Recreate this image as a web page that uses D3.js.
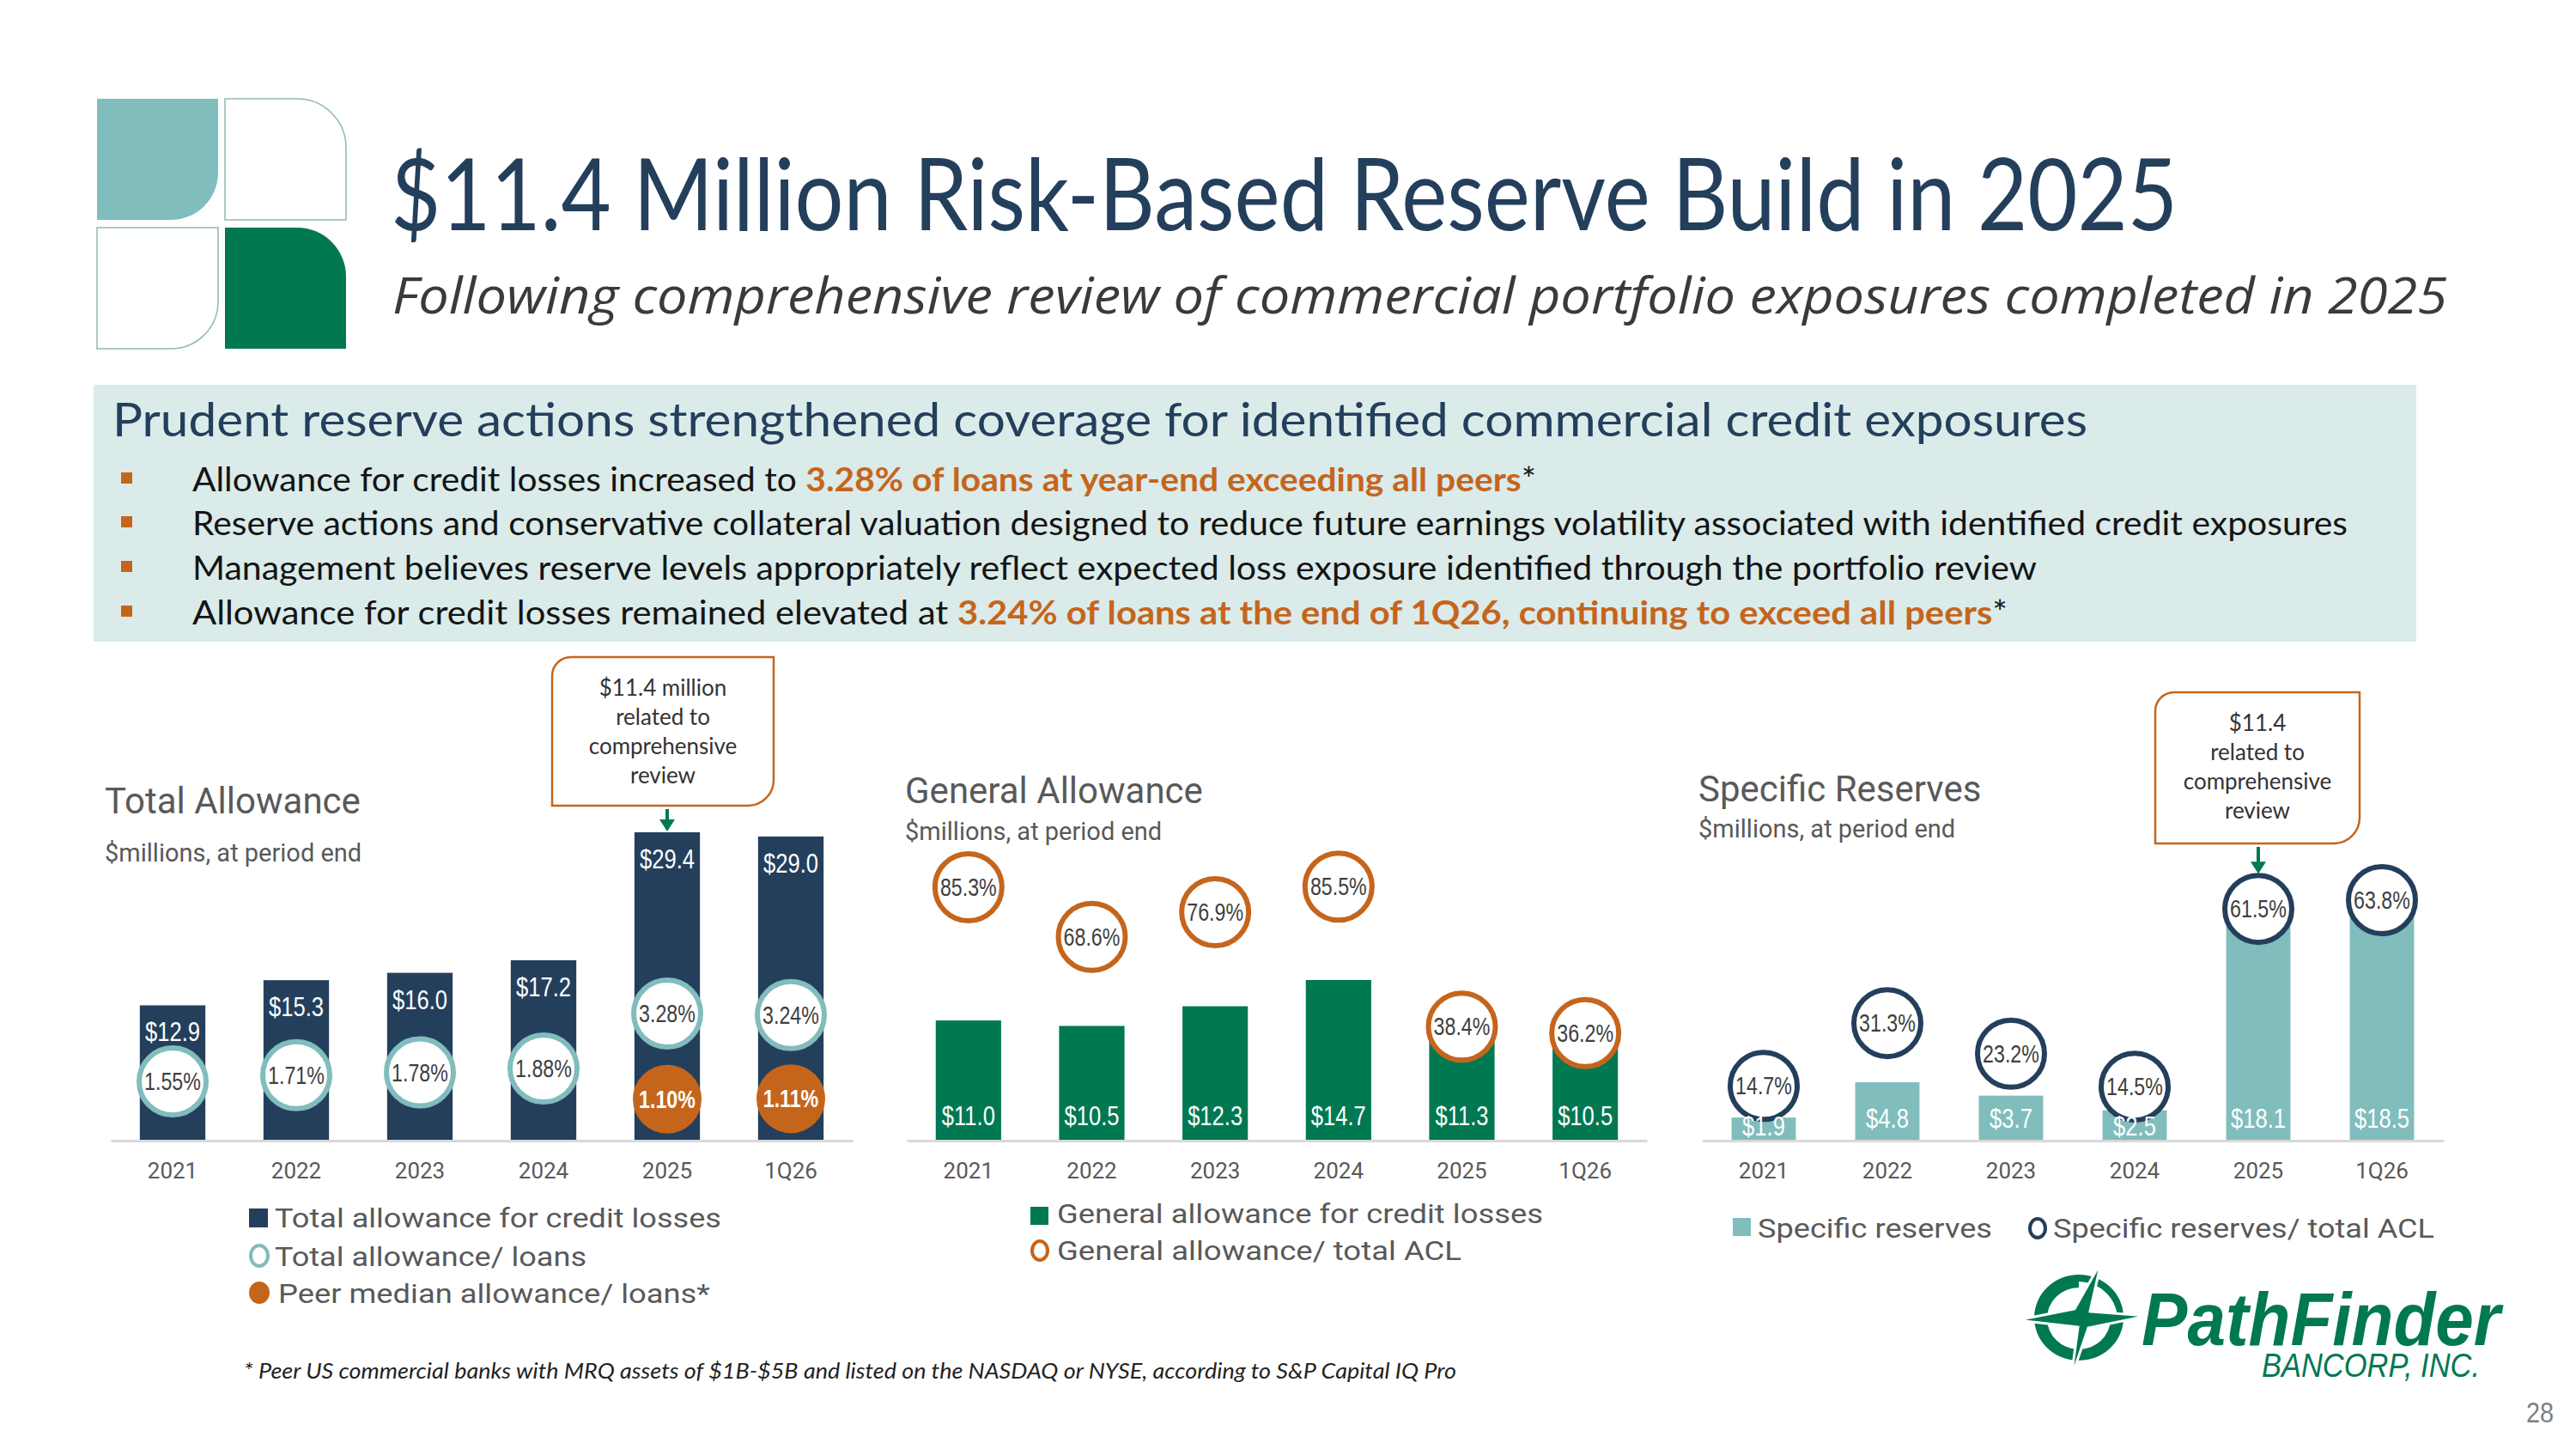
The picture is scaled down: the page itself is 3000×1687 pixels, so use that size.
<!DOCTYPE html>
<html>
<head>
<meta charset="utf-8">
<script src="https://cdn.jsdelivr.net/npm/d3@7"></script>
<style>
body { margin: 0; background: #fff; }
svg { display: block; }
</style>
</head>
<body>
<div class="canvas"></div>
<script>
// ---- data ----
const periods = ["2021", "2022", "2023", "2024", "2025", "1Q26"];
const totalAllowance = [12.9, 15.3, 16.0, 17.2, 29.4, 29.0];
const totalToLoans = [1.55, 1.71, 1.78, 1.88, 3.28, 3.24];
const peerMedian = [null, null, null, null, 1.10, 1.11];
const generalAllowance = [11.0, 10.5, 12.3, 14.7, 11.3, 10.5];
const generalToACL = [85.3, 68.6, 76.9, 85.5, 38.4, 36.2];
const specificReserves = [1.9, 4.8, 3.7, 2.5, 18.1, 18.5];
const specificToACL = [14.7, 31.3, 23.2, 14.5, 61.5, 63.8];
const callout1 = ["$11.4 million", "related to", "comprehensive", "review"];
const callout2 = ["$11.4", "related to", "comprehensive", "review"];
const bullets = [
  [["Allowance for credit losses increased to ", 0], ["3.28% of loans at year-end exceeding all peers", 1], ["*", 0]],
  [["Reserve actions and conservative collateral valuation designed to reduce future earnings volatility associated with identified credit exposures", 0]],
  [["Management believes reserve levels appropriately reflect expected loss exposure identified through the portfolio review", 0]],
  [["Allowance for credit losses remained elevated at ", 0], ["3.24% of loans at the end of 1Q26, continuing to exceed all peers", 1], ["*", 0]]
];

const navy = "#243F5C", teal = "#80BDBC", green = "#007852", orange = "#C5651C";
const grey = "#595959", dark = "#404040";
const baseY = 1328;
const narrowFont = "'Liberation Sans', Arial, sans-serif";

const svg = d3.select('.canvas')
  .append('svg')
  .attr('width', 3000)
  .attr('height', 1687);
svg.append('rect').attr('width', 3000).attr('height', 1687).attr('fill', '#fff');

// rect with individual corner radii [tl, tr, br, bl]
function roundRect(x0, y0, x1, y1, r) {
  const [tl, tr, br, bl] = r;
  return `M${x0 + tl},${y0} H${x1 - tr}` +
    (tr ? ` A${tr},${tr} 0 0 1 ${x1},${y0 + tr}` : '') +
    ` V${y1 - br}` +
    (br ? ` A${br},${br} 0 0 1 ${x1 - br},${y1}` : '') +
    ` H${x0 + bl}` +
    (bl ? ` A${bl},${bl} 0 0 1 ${x0},${y1 - bl}` : '') +
    ` V${y0 + tl}` +
    (tl ? ` A${tl},${tl} 0 0 1 ${x0 + tl},${y0}` : '') + ' Z';
}

// condensed label (Arial squeezed to narrow width)
function narrow(sel, size, fill, weight) {
  return sel
    .attr('text-anchor', 'middle')
    .attr('font-family', narrowFont)
    .attr('font-size', size)
    .attr('font-weight', weight || 400)
    .attr('fill', fill);
}

// logo squares
svg.append('path').attr('d', roundRect(113, 115, 254, 256, [0, 0, 55, 0])).attr('fill', teal);
svg.append('path').attr('d', roundRect(262, 115, 403, 256, [0, 57, 0, 0])).attr('fill', 'none').attr('stroke', '#8FB8B4').attr('stroke-width', 1.5);
svg.append('path').attr('d', roundRect(113, 265, 254, 406, [0, 0, 55, 0])).attr('fill', 'none').attr('stroke', '#8FB8B4').attr('stroke-width', 1.5);
svg.append('path').attr('d', roundRect(262, 265, 403, 406, [0, 57, 0, 0])).attr('fill', green);

// titles
svg.append('text').attr('x', 455).attr('y', 268)
  .attr('font-family', 'Lato').attr('font-size', 116).attr('fill', navy)
  .attr('textLength', 2081).attr('lengthAdjust', 'spacingAndGlyphs')
  .text('$11.4 Million Risk-Based Reserve Build in 2025');
svg.append('text').attr('x', 457).attr('y', 365)
  .attr('font-family', 'Open Sans').attr('font-style', 'italic').attr('font-size', 58).attr('fill', '#3a3a3a')
  .attr('textLength', 2393).attr('lengthAdjust', 'spacingAndGlyphs')
  .text('Following comprehensive review of commercial portfolio exposures completed in 2025');

// highlight box
svg.append('rect').attr('x', 109).attr('y', 448).attr('width', 2705).attr('height', 299).attr('fill', '#DAEBEA');
svg.append('text').attr('x', 131).attr('y', 508)
  .attr('font-family', 'Lato').attr('font-size', 55).attr('fill', navy)
  .attr('textLength', 2300).attr('lengthAdjust', 'spacingAndGlyphs')
  .text('Prudent reserve actions strengthened coverage for identified commercial credit exposures');

const bulletY = [572, 623, 675, 727];
const bulletEnd = [1789, 2734, 2372, 2338];
bullets.forEach((parts, i) => {
  svg.append('rect').attr('x', 141).attr('y', bulletY[i] - 22).attr('width', 13).attr('height', 13).attr('fill', orange);
  const t = svg.append('text').attr('x', 224).attr('y', bulletY[i])
    .attr('font-family', 'Lato').attr('font-size', 38).attr('fill', '#141414')
    .attr('textLength', bulletEnd[i] - 224).attr('lengthAdjust', 'spacingAndGlyphs');
  parts.forEach(p => {
    t.append('tspan').text(p[0])
      .attr('fill', p[1] ? orange : '#141414')
      .attr('font-weight', p[1] ? 700 : 400);
  });
});

// generic chart pieces
function chartTitle(x, y1, y2, title) {
  svg.append('text').attr('x', x).attr('y', y1).attr('font-family', 'Roboto').attr('font-size', 42).attr('fill', grey).text(title);
  svg.append('text').attr('x', x).attr('y', y2).attr('font-family', 'Roboto').attr('font-size', 29).attr('fill', grey).text('$millions, at period end');
}

function xAxis(x) {
  const g = svg.append('g').attr('transform', `translate(0, ${baseY})`)
    .call(d3.axisBottom(x).tickSize(0).tickPadding(26));
  g.select('.domain').attr('stroke', '#D9D9D9').attr('stroke-width', 3);
  g.selectAll('text').attr('font-family', 'Roboto').attr('font-size', 26).attr('fill', grey);
}

function bars(x, y, values, color) {
  svg.append('g').selectAll('rect').data(values).join('rect')
    .attr('x', (d, i) => x(periods[i]))
    .attr('y', d => y(d))
    .attr('width', x.bandwidth())
    .attr('height', d => baseY - y(d))
    .attr('fill', color);
}

function valueLabels(x, values, yFn) {
  narrow(svg.append('g').selectAll('text').data(values).join('text')
    .attr('transform', (d, i) => `translate(${x(periods[i]) + x.bandwidth() / 2},${yFn(d)}) scale(0.8,1)`), 32, '#fff')
    .text(d => '$' + d.toFixed(1));
}

function rings(x, y2, values, stroke, fmt) {
  const g = svg.append('g');
  const pts = values.map((v, i) => ({v, p: periods[i]}));
  g.selectAll('circle').data(pts).join('circle')
    .attr('cx', d => x(d.p) + x.bandwidth() / 2)
    .attr('cy', d => y2(d.v))
    .attr('r', 39)
    .attr('fill', '#fff').attr('stroke', stroke).attr('stroke-width', 6);
  narrow(g.selectAll('text').data(pts).join('text')
    .attr('transform', d => `translate(${x(d.p) + x.bandwidth() / 2},${y2(d.v) + 10}) scale(0.8,1)`), 29, dark)
    .text(d => d.v.toFixed(fmt) + '%');
}

function callout(x0, y0, x1, y1, lines, arrowX, arrowTip) {
  svg.append('path').attr('d', roundRect(x0, y0, x1, y1, [22, 0, 30, 0]))
    .attr('fill', '#fff').attr('stroke', orange).attr('stroke-width', 2.5);
  const cx = (x0 + x1) / 2;
  const top = y0 + 45, lh = 34;
  lines.forEach((l, i) => {
    svg.append('text').attr('x', cx).attr('y', top + i * lh)
      .attr('text-anchor', 'middle').attr('font-family', 'Lato').attr('font-size', 26).attr('fill', '#333')
      .text(l);
  });
  svg.append('line').attr('x1', arrowX).attr('x2', arrowX).attr('y1', y1 + 4).attr('y2', arrowTip - 12)
    .attr('stroke', green).attr('stroke-width', 4);
  svg.append('path').attr('d', `M${arrowX - 9},${arrowTip - 14} L${arrowX + 9},${arrowTip - 14} L${arrowX},${arrowTip} Z`).attr('fill', green);
}

// ---- chart 1: Total Allowance ----
const x1 = d3.scaleBand().domain(periods).range([129, 993]).paddingInner(0.47).paddingOuter(0.235);
const y1 = d3.scaleLinear().domain([0, 29.4]).range([baseY, 969]);
const y1b = d3.scaleLinear().domain([0, 3.28]).range([1330, 1180]);
chartTitle(122, 947, 1003, 'Total Allowance');
bars(x1, y1, totalAllowance, navy);
xAxis(x1);
valueLabels(x1, totalAllowance, d => y1(d) + 42);
rings(x1, y1b, totalToLoans, teal, 2);
const peerPts = peerMedian.map((v, i) => ({v, p: periods[i]})).filter(d => d.v != null);
svg.append('g').selectAll('circle').data(peerPts).join('circle')
  .attr('cx', d => x1(d.p) + x1.bandwidth() / 2).attr('cy', d => y1b(d.v))
  .attr('r', 40).attr('fill', orange);
narrow(svg.append('g').selectAll('text').data(peerPts).join('text')
  .attr('transform', d => `translate(${x1(d.p) + x1.bandwidth() / 2},${y1b(d.v) + 10}) scale(0.8,1)`), 29, '#fff', 700)
  .text(d => d.v.toFixed(2) + '%');
callout(643, 765, 901, 938, callout1, x1('2025') + x1.bandwidth() / 2, y1(totalAllowance[4]) - 1);

// ---- chart 2: General Allowance ----
const x2 = d3.scaleBand().domain(periods).range([1056, 1918]).paddingInner(0.47).paddingOuter(0.235);
const y2 = d3.scaleLinear().domain([0, 14.7]).range([baseY, 1141]);
const y2b = d3.scaleLinear().domain([0, 85.3]).range([baseY, 1033]);
chartTitle(1054, 935, 978, 'General Allowance');
bars(x2, y2, generalAllowance, green);
xAxis(x2);
valueLabels(x2, generalAllowance, () => baseY - 18);
rings(x2, y2b, generalToACL, orange, 1);

// ---- chart 3: Specific Reserves ----
const x3 = d3.scaleBand().domain(periods).range([1982, 2846]).paddingInner(0.48).paddingOuter(0.24);
const y3 = d3.scaleLinear().domain([0, 18.5]).range([baseY, 1066]);
const y3b = d3.scaleLinear().domain([0, 63.8]).range([1329, 1048]);
chartTitle(1978, 933, 975, 'Specific Reserves');
bars(x3, y3, specificReserves, teal);
xAxis(x3);
rings(x3, y3b, specificToACL, navy, 1);
valueLabels(x3, specificReserves, d => (baseY - y3(d) < 45 ? baseY - 6 : baseY - 15));
callout(2510, 806, 2748, 982, callout2, x3('2025') + x3.bandwidth() / 2, y3b(specificToACL[4]) - 41);

// ---- legends ----
function legendText(x, y, s, end) {
  svg.append('text').attr('x', x).attr('y', y).attr('font-family', 'Roboto').attr('font-size', 31).attr('fill', grey)
    .attr('textLength', end - x).attr('lengthAdjust', 'spacingAndGlyphs').text(s);
}
svg.append('rect').attr('x', 290).attr('y', 1407).attr('width', 22).attr('height', 22).attr('fill', navy);
legendText(320, 1429, 'Total allowance for credit losses', 840);
svg.append('ellipse').attr('cx', 302).attr('cy', 1462).attr('rx', 10).attr('ry', 12).attr('fill', '#fff').attr('stroke', teal).attr('stroke-width', 4);
legendText(320, 1474, 'Total allowance/ loans', 683);
svg.append('ellipse').attr('cx', 302).attr('cy', 1505).attr('rx', 12).attr('ry', 13).attr('fill', orange);
legendText(324, 1517, 'Peer median allowance/ loans*', 827);

svg.append('rect').attr('x', 1200).attr('y', 1405).attr('width', 21).attr('height', 21).attr('fill', green);
legendText(1231, 1424, 'General allowance for credit losses', 1797);
svg.append('ellipse').attr('cx', 1211).attr('cy', 1456).attr('rx', 9).attr('ry', 11).attr('fill', '#fff').attr('stroke', orange).attr('stroke-width', 4);
legendText(1231, 1467, 'General allowance/ total ACL', 1702);

svg.append('rect').attr('x', 2018).attr('y', 1418).attr('width', 21).attr('height', 21).attr('fill', teal);
legendText(2047, 1441, 'Specific reserves', 2320);
svg.append('ellipse').attr('cx', 2373).attr('cy', 1430).attr('rx', 9).attr('ry', 11).attr('fill', '#fff').attr('stroke', navy).attr('stroke-width', 4);
legendText(2391, 1441, 'Specific reserves/ total ACL', 2835);

// footnote
svg.append('text').attr('x', 284).attr('y', 1605)
  .attr('font-family', 'Lato').attr('font-style', 'italic').attr('font-size', 25).attr('fill', '#222')
  .attr('textLength', 1412).attr('lengthAdjust', 'spacingAndGlyphs')
  .text('* Peer US commercial banks with MRQ assets of $1B-$5B and listed on the NASDAQ or NYSE, according to S&P Capital IQ Pro');

// company logo
const lg = svg.append('g');
lg.append('path')
  .attr('d', 'M2421,1484 A52,50 0 1,0 2473,1536 L2458,1536 A37,36 0 1,1 2421,1499 Z')
  .attr('fill', green);
lg.append('path')
  .attr('d', 'M2421,1484 A52,50 0 0,1 2473,1536 L2466,1536 A46,44 0 0,0 2421,1492 Z')
  .attr('fill', green);
lg.append('path').attr('d', 'M2349,1537 L2416,1524 L2447,1469 L2434,1527 L2501,1532 L2432,1546 L2412,1605 L2420,1545 Z')
  .attr('fill', green).attr('stroke', '#fff').attr('stroke-width', 3);
const logoText = lg.append('text')
  .attr('font-family', "'Liberation Sans', Arial, sans-serif").attr('font-style', 'italic').attr('fill', green);
logoText.append('tspan').attr('x', 2494).attr('y', 1566)
  .attr('font-weight', 700).attr('font-size', 88)
  .attr('textLength', 418).attr('lengthAdjust', 'spacingAndGlyphs').text('PathFinder');
logoText.append('tspan').attr('x', 2634).attr('y', 1603)
  .attr('font-weight', 400).attr('font-size', 38)
  .attr('textLength', 254).attr('lengthAdjust', 'spacingAndGlyphs').text('BANCORP, INC.');

// page number
narrow(svg.append('text').attr('transform', 'translate(2958,1656) scale(0.85,1)'), 34, '#7F7F7F').text('28');
</script>
</body>
</html>
